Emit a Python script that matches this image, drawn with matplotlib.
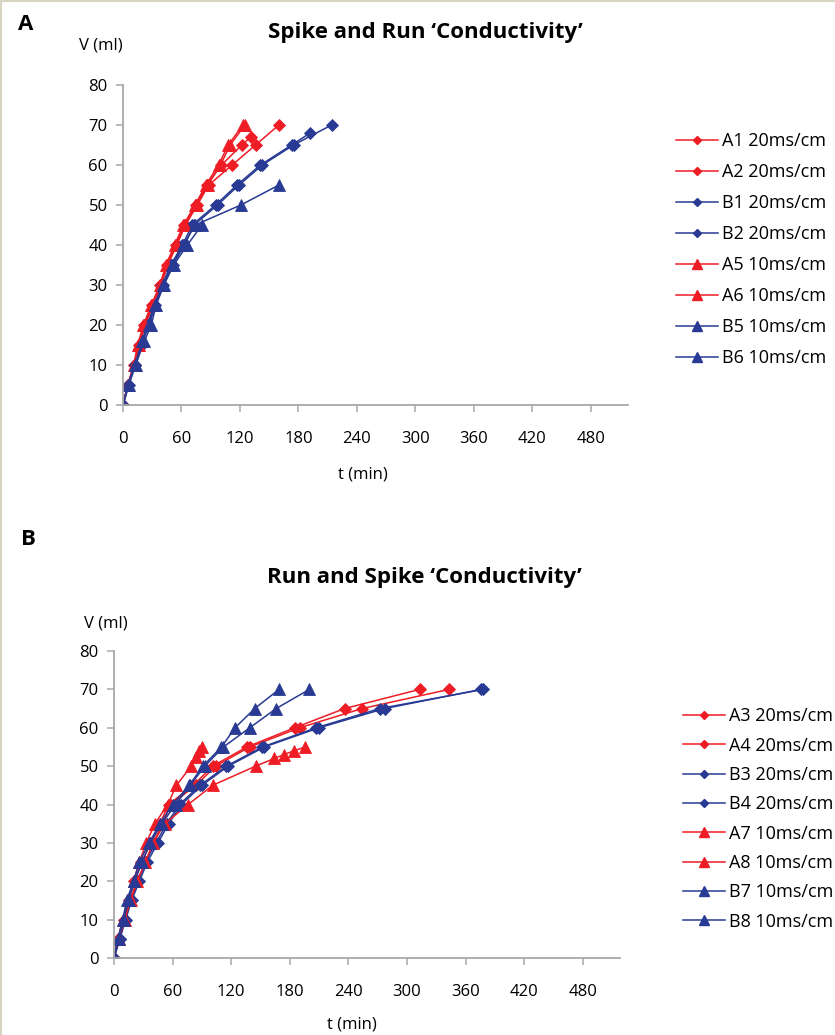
import matplotlib
matplotlib.use("Agg")
import matplotlib.pyplot as plt
from matplotlib.lines import Line2D

plt.rcParams["font.family"] = ["Open Sans", "DejaVu Sans"]

RED = "#ee1c25"
BLUE = "#283a93"

V15 = [0, 5, 10, 15, 20, 25, 30, 35, 40, 45, 50, 55, 60, 65, 70]

# Panel A: Spike and Run
a1_t = [0, 5, 12, 17, 23, 31, 39, 46, 55, 64, 76, 88, 112, 136, 160]
a1_v = V15
a2_t = [0, 5, 11, 16, 22, 30, 38, 45, 54, 63, 75, 86, 101, 122, 131]
a2_v = [0, 5, 10, 15, 20, 25, 30, 35, 40, 45, 50, 55, 60, 65, 67]
b1_t = [0, 5, 12, 19, 26, 33, 41, 51, 63, 73, 97, 119, 143, 175, 214]
b1_v = V15
b2_t = [0, 6, 12, 18, 25, 32, 40, 49, 61, 71, 95, 117, 141, 173, 192]
b2_v = [0, 5, 10, 15, 20, 25, 30, 35, 40, 45, 50, 55, 60, 65, 68]
a5_t = [0, 5, 11, 15, 21, 29, 38, 44, 53, 62, 74, 85, 98, 108, 123]
a5_v = V15
a6_t = [0, 5, 12, 16, 22, 30, 39, 45, 55, 64, 76, 87, 100, 110, 125]
a6_v = V15
b5_t = [0, 5, 12, 20, 27, 33, 41, 50, 62, 74, 121, 160]
b5_v = [0, 5, 10, 16, 20, 25, 30, 35, 40, 45, 50, 55]
b6_t = [0, 6, 13, 22, 29, 34, 42, 52, 66, 81]
b6_v = [0, 5, 10, 16, 20, 25, 30, 35, 40, 45]

# Panel B: Run and Spike
a3_t = [0, 4, 10, 15, 21, 28, 38, 47, 56, 81, 101, 136, 185, 236, 313]
a3_v = V15
a4_t = [0, 5, 11, 17, 23, 33, 40, 50, 58, 84, 104, 139, 190, 254, 343]
a4_v = V15
b3_t = [0, 6, 12, 18, 26, 34, 45, 56, 69, 90, 117, 154, 210, 277, 376]
b3_v = V15
b4_t = [0, 6, 11, 17, 25, 32, 43, 54, 67, 88, 115, 152, 207, 272, 378]
b4_v = V15
a7_t = [0, 4, 9, 14, 20, 26, 33, 42, 55, 64, 79, 84, 87, 90]
a7_v = [0, 5, 10, 15, 20, 25, 30, 35, 40, 45, 50, 52.5, 54, 55]
a8_t = [0, 5, 11, 17, 24, 32, 40, 52, 76, 101, 145, 164, 174, 184, 196]
a8_v = [0, 5, 10, 15, 20, 25, 30, 35, 40, 45, 50, 52, 53, 54, 55]
b7_t = [0, 4, 9, 13, 20, 26, 36, 47, 60, 77, 91, 110, 124, 144, 169]
b7_v = V15
b8_t = [0, 5, 10, 15, 21, 29, 37, 49, 63, 78, 93, 112, 139, 166, 200]
b8_v = V15

x_ticks = [0, 60, 120, 180, 240, 300, 360, 420, 480]
y_ticks = [0, 10, 20, 30, 40, 50, 60, 70, 80]

panel_a = [
    ("A1 20ms/cm", a1_t, a1_v, RED, "D"),
    ("A2 20ms/cm", a2_t, a2_v, RED, "D"),
    ("B1 20ms/cm", b1_t, b1_v, BLUE, "D"),
    ("B2 20ms/cm", b2_t, b2_v, BLUE, "D"),
    ("A5 10ms/cm", a5_t, a5_v, RED, "^"),
    ("A6 10ms/cm", a6_t, a6_v, RED, "^"),
    ("B5 10ms/cm", b5_t, b5_v, BLUE, "^"),
    ("B6 10ms/cm", b6_t, b6_v, BLUE, "^"),
]

panel_b = [
    ("A3 20ms/cm", a3_t, a3_v, RED, "D"),
    ("A4 20ms/cm", a4_t, a4_v, RED, "D"),
    ("B3 20ms/cm", b3_t, b3_v, BLUE, "D"),
    ("B4 20ms/cm", b4_t, b4_v, BLUE, "D"),
    ("A7 10ms/cm", a7_t, a7_v, RED, "^"),
    ("A8 10ms/cm", a8_t, a8_v, RED, "^"),
    ("B7 10ms/cm", b7_t, b7_v, BLUE, "^"),
    ("B8 10ms/cm", b8_t, b8_v, BLUE, "^"),
]


def draw_panel(fig, rect, series, legend_y, legend_x, spacing):
    ax = fig.add_axes(rect)
    handles = []
    for label, t, v, color, marker in series:
        ms = 6.5 if marker == "D" else 8.5
        ax.plot(t, v, color=color, lw=1.1, marker=marker, ms=ms,
                markeredgewidth=0.6, markeredgecolor=color)
        handles.append(Line2D([], [], color=color, lw=1.1, marker=marker,
                              ms=ms - 2, label=label))

    ax.set_xlim(0, 518)
    ax.set_ylim(0, 80)
    ax.set_xticks(x_ticks)
    ax.set_yticks(y_ticks)
    for side in ["top", "right"]:
        ax.spines[side].set_visible(False)
    for side in ["left", "bottom"]:
        ax.spines[side].set_color("#a8a8a8")
        ax.spines[side].set_linewidth(1.3)
    ax.tick_params(direction="out", length=5, width=1.1, color="#a8a8a8",
                   labelsize=12, labelcolor="black", pad=6)
    ax.tick_params(axis="x", pad=14)

    fig.legend(handles=handles, loc="center left",
               bbox_to_anchor=(legend_x, legend_y), frameon=False,
               fontsize=13, handlelength=2.3, handletextpad=0.25,
               labelspacing=spacing, borderpad=0, borderaxespad=0)
    return ax


fig = plt.figure(figsize=(8.35, 10.35), dpi=100)

draw_panel(fig, [0.1473, 0.6087, 0.6048, 0.3092], panel_a, 0.7585, 0.810, 0.72)
draw_panel(fig, [0.1365, 0.0744, 0.6060, 0.2966], panel_b, 0.2087, 0.818, 0.63)

# Panel A labels
fig.text(0.022, 0.976, "A", fontsize=16, fontweight="bold", ha="left", va="center")
fig.text(0.509, 0.969, "Spike and Run \u2018Conductivity\u2019", fontsize=16,
         fontweight="bold", ha="center", va="center")
fig.text(0.121, 0.9565, "V (ml)", fontsize=12, ha="center", va="center")
fig.text(0.435, 0.542, "t (min)", fontsize=12, ha="center", va="center")

# Panel B labels
fig.text(0.025, 0.479, "B", fontsize=16, fontweight="bold", ha="left", va="center")
fig.text(0.508, 0.4425, "Run and Spike \u2018Conductivity\u2019", fontsize=16,
         fontweight="bold", ha="center", va="center")
fig.text(0.127, 0.398, "V (ml)", fontsize=12, ha="center", va="center")
fig.text(0.4216, 0.0105, "t (min)", fontsize=12, ha="center", va="center")

# thin frame on the top and left edges
fig.add_artist(Line2D([0, 1], [0.999, 0.999], color="#d8d4c2", lw=1.5,
                      transform=fig.transFigure))
fig.add_artist(Line2D([0.001, 0.001], [0, 1], color="#d8d4c2", lw=1.5,
                      transform=fig.transFigure))

fig.savefig("out.png", dpi=100)
plt.close(fig)
